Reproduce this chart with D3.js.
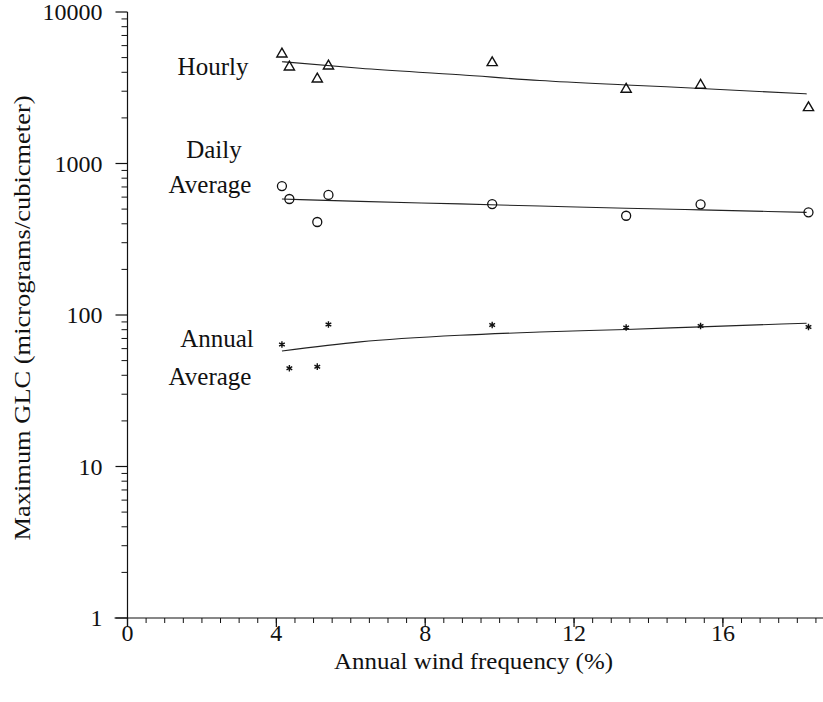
<!DOCTYPE html>
<html>
<head>
<meta charset="utf-8">
<script src="https://cdn.jsdelivr.net/npm/d3@7"></script>
<style>
  html, body { margin: 0; padding: 0; background: #fff; }
  svg { display: block; }
  text { font-family: "Liberation Serif", "Times New Roman", serif; fill: #111; }
</style>
</head>
<body>
<svg id="chart" width="823" height="702"></svg>
<script>
// Wind frequency (%) at each site
const freq = [4.15, 4.35, 5.1, 5.4, 9.8, 13.4, 15.4, 18.3];
// Maximum ground-level concentrations (micrograms/cubicmeter)
const hourly = [5280, 4335, 3612, 4402, 4627, 3090, 3281, 2336];
const daily  = [710, 583, 411, 620, 540, 452, 538, 476];
const annual = [63.9, 44.5, 45.6, 86.5, 85.9, 82.7, 84.6, 83.4];

// Fitted trend curves
const fitFreq   = [4.15, 6.25, 8.93, 11.08, 13.4, 15.4, 18.25];
const hourlyFit = [4700, 4250, 3850, 3530, 3300, 3130, 2880];
const dailyFit  = [583, 562, 541, 524, 507, 494, 476];
const annualFit = [57.9, 66.5, 73.5, 77.2, 80.3, 83.5, 88.3];

const xTicks = [0, 4, 8, 12, 16];
const yTicks = [1, 10, 100, 1000, 10000];

const svg = d3.select("#chart");

const x = d3.scaleLinear().domain([0, 18.69]).range([127.5, 823]);
const y = d3.scaleLog().domain([1, 10000]).range([618, 12]);

const ink = "#111";

// Y axis with decade labels and log minor ticks
const yMinor = [];
for (let d = 1; d < 10000; d *= 10) for (let k = 2; k <= 9; k++) yMinor.push(d * k);

const yAxis = svg.append("g").attr("transform", `translate(${x(0)},0)`);
yAxis.append("line").attr("x1", 0).attr("x2", 0).attr("y1", y(10000)).attr("y2", y(1) + 9)
  .attr("stroke", ink).attr("stroke-width", 1.2);
yAxis.selectAll(".ymin").data(yMinor).join("line")
  .attr("x1", -6).attr("x2", 0).attr("y1", d => y(d)).attr("y2", d => y(d))
  .attr("stroke", ink).attr("stroke-width", 1);
yAxis.selectAll(".ymaj").data(yTicks).join("line")
  .attr("x1", -12).attr("x2", 0).attr("y1", d => y(d)).attr("y2", d => y(d))
  .attr("stroke", ink).attr("stroke-width", 1.2);
yAxis.selectAll(".ylab").data(yTicks).join("text")
  .attr("x", -25).attr("y", d => y(d)).attr("dy", "0.35em")
  .attr("text-anchor", "end").attr("font-size", 24)
  .text(d => d);

// X axis with half-unit minor ticks
const xMinor = d3.range(0, 18.6, 0.5);
const xAxis = svg.append("g").attr("transform", `translate(0,${y(1)})`);
xAxis.append("line").attr("x1", x(0) - 13).attr("x2", 823).attr("y1", 0).attr("y2", 0)
  .attr("stroke", ink).attr("stroke-width", 1.2);
xAxis.selectAll(".xmin").data(xMinor).join("line")
  .attr("x1", d => x(d)).attr("x2", d => x(d)).attr("y1", 0).attr("y2", 5)
  .attr("stroke", ink).attr("stroke-width", 1);
xAxis.selectAll(".xmaj").data(xTicks).join("line")
  .attr("x1", d => x(d)).attr("x2", d => x(d)).attr("y1", 0).attr("y2", 9)
  .attr("stroke", ink).attr("stroke-width", 1.2);
xAxis.selectAll(".xlab").data(xTicks).join("text")
  .attr("x", d => x(d)).attr("y", 15).attr("dy", "0.35em")
  .attr("text-anchor", "middle").attr("font-size", 24)
  .text(d => d);

// Axis titles
svg.append("text")
  .attr("x", 473.5).attr("y", 669)
  .attr("text-anchor", "middle").attr("font-size", 24)
  .attr("textLength", 279).attr("lengthAdjust", "spacingAndGlyphs")
  .text("Annual wind frequency (%)");
svg.append("text")
  .attr("transform", "translate(30,318) rotate(-90)")
  .attr("text-anchor", "middle").attr("font-size", 24)
  .attr("textLength", 445).attr("lengthAdjust", "spacingAndGlyphs")
  .text("Maximum GLC (micrograms/cubicmeter)");

// Trend curves
const line = d3.line().x(d => x(d[0])).y(d => y(d[1])).curve(d3.curveMonotoneX);
[hourlyFit, dailyFit, annualFit].forEach(fit => {
  svg.append("path")
    .datum(fitFreq.map((f, i) => [f, fit[i]]))
    .attr("d", line)
    .attr("fill", "none").attr("stroke", "#222").attr("stroke-width", 1.1);
});

// Hourly: open triangles
svg.selectAll(".tri").data(freq.map((f, i) => [f, hourly[i]])).join("path")
  .attr("d", d3.symbol(d3.symbolTriangle, 45))
  .attr("transform", d => `translate(${x(d[0])},${y(d[1])})`)
  .attr("fill", "none").attr("stroke", ink).attr("stroke-width", 1.4);

// Daily average: open circles
svg.selectAll(".circ").data(freq.map((f, i) => [f, daily[i]])).join("circle")
  .attr("cx", d => x(d[0])).attr("cy", d => y(d[1])).attr("r", 4.5)
  .attr("fill", "none").attr("stroke", ink).attr("stroke-width", 1.3);

// Annual average: asterisks
svg.selectAll(".star").data(freq.map((f, i) => [f, annual[i]])).join("path")
  .attr("d", d3.symbol(d3.symbolAsterisk, 30))
  .attr("transform", d => `translate(${x(d[0])},${y(d[1])})`)
  .attr("fill", "none").attr("stroke", ink).attr("stroke-width", 1.4);

// Series labels
const labels = [
  { text: "Hourly", x: 213, y: 75 },
  { text: "Daily", x: 214, y: 158 },
  { text: "Average", x: 210, y: 193 },
  { text: "Annual", x: 217, y: 347 },
  { text: "Average", x: 210, y: 385 }
];
svg.selectAll(".slab").data(labels).join("text")
  .attr("x", d => d.x).attr("y", d => d.y)
  .attr("text-anchor", "middle").attr("font-size", 25)
  .text(d => d.text);
</script>
</body>
</html>
